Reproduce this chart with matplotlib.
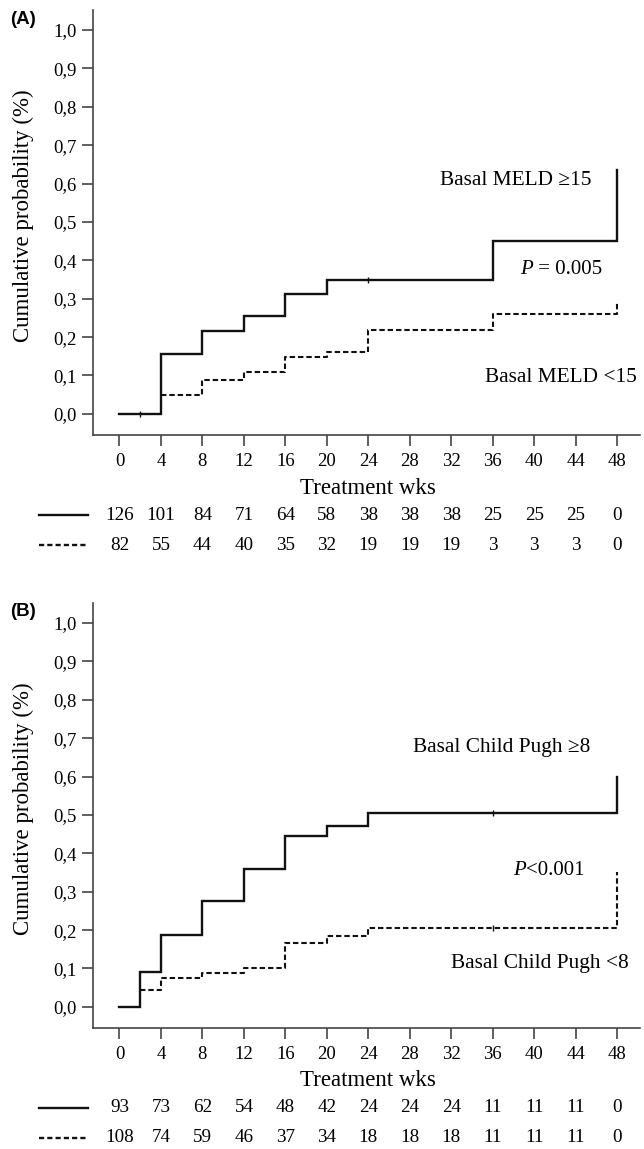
import matplotlib
matplotlib.use("Agg")
import matplotlib.pyplot as plt
from matplotlib.transforms import blended_transform_factory

plt.rcParams['font.family'] = ['Liberation Serif', 'DejaVu Serif']

# ---------------- data ----------------
weeks = [0, 4, 8, 12, 16, 20, 24, 28, 32, 36, 40, 44, 48]
ytick_vals = [0.0, 0.1, 0.2, 0.3, 0.4, 0.5, 0.6, 0.7, 0.8, 0.9, 1.0]
ytick_labels = ["0,0", "0,1", "0,2", "0,3", "0,4", "0,5", "0,6", "0,7", "0,8", "0,9", "1,0"]

# Panel A: Basal MELD
a_hi_t = [0, 4, 8, 12, 16, 20, 36, 48]
a_hi_p = [0.0, 0.155, 0.217, 0.254, 0.313, 0.350, 0.450, 0.636]
a_lo_t = [4, 8, 12, 16, 20, 24, 36, 48]
a_lo_p = [0.049, 0.089, 0.109, 0.147, 0.161, 0.219, 0.261, 0.290]
a_hi_cens_t = [2, 24]
a_hi_cens_p = [0.0, 0.350]
a_risk_hi = [126, 101, 84, 71, 64, 58, 38, 38, 38, 25, 25, 25, 0]
a_risk_lo = [82, 55, 44, 40, 35, 32, 19, 19, 19, 3, 3, 3, 0]

# Panel B: Basal Child Pugh
b_hi_t = [0, 2, 4, 8, 12, 16, 20, 24, 48]
b_hi_p = [0.0, 0.092, 0.187, 0.276, 0.360, 0.445, 0.472, 0.506, 0.600]
b_lo_t = [2, 4, 8, 12, 16, 20, 24, 48]
b_lo_p = [0.045, 0.076, 0.087, 0.102, 0.167, 0.185, 0.205, 0.352]
b_hi_cens_t = [36]
b_hi_cens_p = [0.506]
b_lo_cens_t = [36]
b_lo_cens_p = [0.205]
b_risk_hi = [93, 73, 62, 54, 48, 42, 24, 24, 24, 11, 11, 11, 0]
b_risk_lo = [108, 74, 59, 46, 37, 34, 18, 18, 18, 11, 11, 11, 0]

panels = [
    dict(tag="(A)", hi_t=a_hi_t, hi_p=a_hi_p, lo_t=a_lo_t, lo_p=a_lo_p,
         cens=[(a_hi_cens_t, a_hi_cens_p)],
         risk_hi=a_risk_hi, risk_lo=a_risk_lo,
         texts=[("Basal MELD \u226515", 45.5, 0.607, False),
                ("P = 0.005", 46.5, 0.376, True),
                ("Basal MELD <15", 49.9, 0.094, False)]),
    dict(tag="(B)", hi_t=b_hi_t, hi_p=b_hi_p, lo_t=b_lo_t, lo_p=b_lo_p,
         cens=[(b_hi_cens_t, b_hi_cens_p), (b_lo_cens_t, b_lo_cens_p)],
         risk_hi=b_risk_hi, risk_lo=b_risk_lo,
         texts=[("Basal Child Pugh \u22658", 45.4, 0.675, False),
                ("P<0.001", 44.8, 0.355, True),
                ("Basal Child Pugh <8", 49.1, 0.114, False)]),
]

W, H = 644, 1149
fig = plt.figure(figsize=(W / 100, H / 100), dpi=100)

def fy(px):
    return 1 - px / H

line_col = "#111111"
spine_col = "#444444"

for i, pn in enumerate(panels):
    off = 593 * i
    ax = fig.add_axes([93 / W, fy(435 + off), (640 - 93) / W, (435 - 10) / H])
    ax.set_xlim(-2.55, 50.2)
    ax.set_ylim(-0.055, 1.052)
    for s in ("top", "right"):
        ax.spines[s].set_visible(False)
    for s in ("left", "bottom"):
        ax.spines[s].set_color(spine_col)
        ax.spines[s].set_linewidth(1.2)
    ax.set_xticks(weeks)
    ax.set_xticklabels([str(w) for w in weeks], fontsize=13.5)
    ax.set_yticks(ytick_vals)
    ax.set_yticklabels(ytick_labels, fontsize=13.5)
    ax.tick_params(axis="x", length=8, width=1.2, color=spine_col, pad=5)
    ax.tick_params(axis="y", length=8, width=1.2, color=spine_col, pad=4)

    # curves
    ax.plot(pn["hi_t"], pn["hi_p"], drawstyle="steps-post", color=line_col, lw=1.7,
            solid_joinstyle="miter")
    ax.plot(pn["lo_t"], pn["lo_p"], drawstyle="steps-post", color=line_col, lw=1.5,
            dashes=(2.6, 1.4))
    for ct, cp in pn["cens"]:
        ax.plot(ct, cp, linestyle="none", marker="|", markersize=5, color=line_col, mew=1.0)

    for txt, x, y, ital in pn["texts"]:
        if ital:
            rest = txt[1:]
            t = ax.text(x, y, rest, ha="right", va="center", fontsize=15)
            fig.canvas.draw()
            bb = t.get_window_extent()
            xd = ax.transData.inverted().transform((bb.x0, 0))[0]
            ax.text(xd, y, "P", ha="right", va="center", fontsize=15, style="italic")
        else:
            ax.text(x, y, txt, ha="right", va="center", fontsize=15.4)

    # y label
    fig.text(23 / W, fy(216 + off), "Cumulative probability (%)", rotation=90,
             ha="center", va="center", fontsize=16.5)
    tr = blended_transform_factory(ax.transData, fig.transFigure)
    ax.text(24, fy(488 + off), "Treatment wks", transform=tr, ha="center", va="center",
            fontsize=16.5, clip_on=False)
    # panel tag
    fig.text(10 / W, fy(19 + off), pn["tag"], ha="left", va="center", fontsize=13.5,
             fontweight="bold", family="Liberation Sans")

    # number at risk
    for row, vals, style in ((0, pn["risk_hi"], "-"), (1, pn["risk_lo"], "--")):
        ypx = 515 + off + row * 30
        for w, v in zip(weeks, vals):
            ax.text(w, fy(ypx), str(v), transform=tr, ha="center", va="center",
                    fontsize=13.8, clip_on=False)
        if style == "-":
            fig.add_artist(plt.Line2D([39 / W, 88 / W], [fy(ypx), fy(ypx)],
                                      color=line_col, lw=1.7))
        else:
            fig.add_artist(plt.Line2D([39 / W, 88 / W], [fy(ypx), fy(ypx)],
                                      color=line_col, lw=1.7, dashes=(2.2, 1.3)))

fig.savefig("out.png", dpi=100)
